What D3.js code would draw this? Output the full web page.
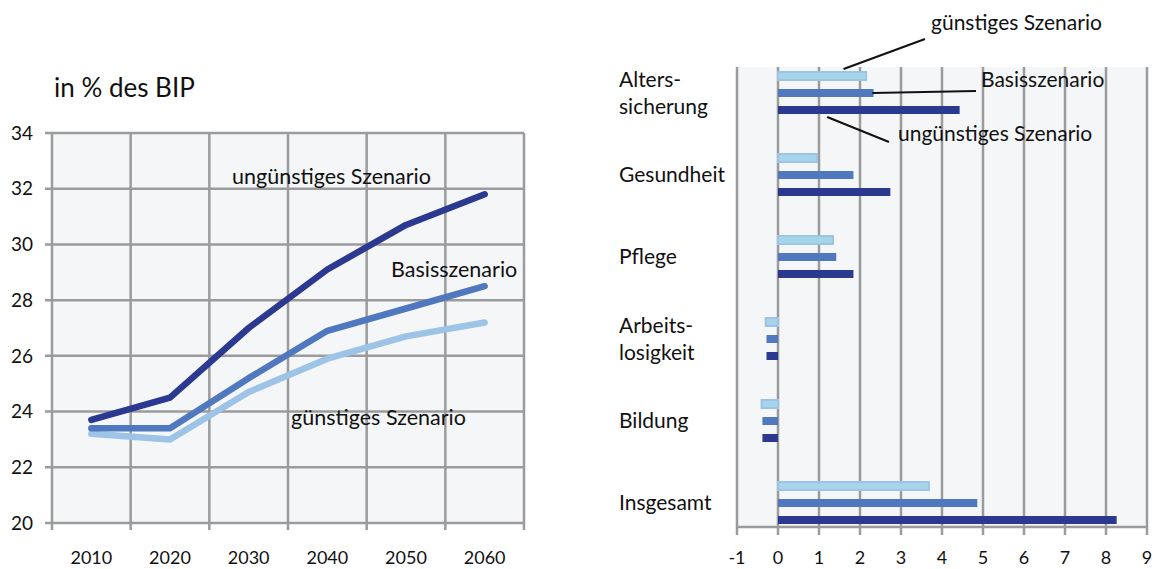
<!DOCTYPE html>
<html>
<head>
<meta charset="utf-8">
<script src="https://cdn.jsdelivr.net/npm/d3@7"></script>
<style>
  body { margin: 0; background: #fff; }
  svg { display: block; font-family: Lato, "Open Sans", sans-serif; }
</style>
</head>
<body>
<script>
'use strict';

// left chart: expenditure in % of GDP
let years = [2010, 2020, 2030, 2040, 2050, 2060];
let yTicks = [20, 22, 24, 26, 28, 30, 32, 34];
let unguenstig = [23.7, 24.5, 27.0, 29.1, 30.7, 31.8];
let basis = [23.4, 23.4, 25.2, 26.9, 27.7, 28.5];
let guenstig = [23.2, 23.0, 24.7, 25.9, 26.7, 27.2];

// right chart: change by area
let areas = ['Alterssicherung', 'Gesundheit', 'Pflege', 'Arbeitslosigkeit', 'Bildung', 'Insgesamt'];
let areaLabels = [['Alters-', 'sicherung'], ['Gesundheit'], ['Pflege'], ['Arbeits-', 'losigkeit'], ['Bildung'], ['Insgesamt']];
let barGuenstig = [2.15, 0.95, 1.34, -0.3, -0.4, 3.68];
let barBasis = [2.33, 1.84, 1.42, -0.28, -0.38, 4.86];
let barUnguenstig = [4.43, 2.74, 1.84, -0.28, -0.38, 8.26];
let xTicks = [-1, 0, 1, 2, 3, 4, 5, 6, 7, 8, 9];

let seriesNames = ['günstiges Szenario', 'Basisszenario', 'ungünstiges Szenario'];
let colors = { 'günstiges Szenario': '#9dc3e6', 'Basisszenario': '#4f78be', 'ungünstiges Szenario': '#2b3990' };

let width = 1156, height = 569;
let gridColor = '#9b9b9b';
let plotBg = '#f4f6f8';
let textColor = '#111';

let svg = d3.select('body').append('svg').attr('width', width).attr('height', height);

// ---------- left: line chart ----------
let L = { left: 52, right: 524, top: 133, bottom: 523 };

let x = d3.scaleBand().domain(years).range([L.left, L.right]);
let y = d3.scaleLinear().domain([20, 34]).range([L.bottom, L.top]);

let left = svg.append('g');

left.append('rect')
  .attr('x', L.left).attr('y', L.top)
  .attr('width', L.right - L.left).attr('height', L.bottom - L.top)
  .attr('fill', plotBg);

// horizontal grid + small ticks to the left
left.selectAll('.hgrid').data(yTicks).enter().append('line')
  .attr('x1', L.left - 7).attr('x2', L.right)
  .attr('y1', d => y(d)).attr('y2', d => y(d))
  .attr('stroke', gridColor).attr('stroke-width', 2.5);

// vertical grid at band edges, running a bit below the plot
let xEdges = years.map(d => x(d)).concat([L.right]);
left.selectAll('.vgrid').data(xEdges).enter().append('line')
  .attr('x1', d => d).attr('x2', d => d)
  .attr('y1', L.top).attr('y2', L.bottom + 7)
  .attr('stroke', gridColor).attr('stroke-width', 2.5);

left.selectAll('.ylab').data(yTicks).enter().append('text')
  .attr('x', 33).attr('y', d => y(d)).attr('dy', '0.35em')
  .attr('text-anchor', 'end').attr('font-size', 19).attr('fill', textColor)
  .text(d => d);

left.selectAll('.xlab').data(years).enter().append('text')
  .attr('x', d => x(d) + x.bandwidth() / 2).attr('y', 558).attr('dy', '0.35em')
  .attr('text-anchor', 'middle').attr('font-size', 18).attr('fill', textColor)
  .text(d => d);

let line = d3.line()
  .x((d, i) => x(years[i]) + x.bandwidth() / 2)
  .y(d => y(d));

[[guenstig, 'günstiges Szenario'], [basis, 'Basisszenario'], [unguenstig, 'ungünstiges Szenario']].forEach(function (s) {
  left.append('path')
    .attr('d', line(s[0]))
    .attr('fill', 'none')
    .attr('stroke', colors[s[1]])
    .attr('stroke-width', 6.5)
    .attr('stroke-linejoin', 'round')
    .attr('stroke-linecap', 'round');
});

left.append('text').attr('x', 54).attr('y', 97)
  .attr('font-size', 26).attr('fill', textColor).text('in % des BIP');

left.append('text').attr('x', 232).attr('y', 184).attr('font-size', 21.5).attr('fill', textColor).text('ungünstiges Szenario');
left.append('text').attr('x', 391).attr('y', 277).attr('font-size', 21.5).attr('fill', textColor).text('Basisszenario');
left.append('text').attr('x', 291).attr('y', 425).attr('font-size', 21.5).attr('fill', textColor).text('günstiges Szenario');

// ---------- right: bar chart ----------
let R = { left: 737, right: 1147, top: 67, bottom: 527 };

let xb = d3.scaleLinear().domain([-1, 9]).range([R.left, R.right]);
let yb = d3.scalePoint().domain(areas).range([93, 503]);
let yInner = d3.scalePoint().domain(seriesNames).range([-17, 17]);
let barH = 8;

let right = svg.append('g');

right.append('rect')
  .attr('x', R.left).attr('y', R.top)
  .attr('width', R.right - R.left).attr('height', R.bottom - R.top)
  .attr('fill', plotBg);

right.selectAll('.vgrid').data(xTicks).enter().append('line')
  .attr('x1', d => xb(d)).attr('x2', d => xb(d))
  .attr('y1', R.top).attr('y2', R.bottom + 8)
  .attr('stroke', gridColor).attr('stroke-width', 2.5);

right.append('line')
  .attr('x1', R.left).attr('x2', R.right)
  .attr('y1', R.bottom).attr('y2', R.bottom)
  .attr('stroke', gridColor).attr('stroke-width', 2.5);

right.selectAll('.xlab').data(xTicks).enter().append('text')
  .attr('x', d => xb(d)).attr('y', 558).attr('dy', '0.35em')
  .attr('text-anchor', 'middle').attr('font-size', 18).attr('fill', textColor)
  .text(d => d);

let barSeries = [
  { name: 'günstiges Szenario', values: barGuenstig },
  { name: 'Basisszenario', values: barBasis },
  { name: 'ungünstiges Szenario', values: barUnguenstig }
];

barSeries.forEach(function (s) {
  let light = s.name === 'günstiges Szenario';
  right.selectAll(null).data(s.values).enter().append('rect')
    .attr('x', d => xb(Math.min(0, d)))
    .attr('width', d => Math.abs(xb(d) - xb(0)))
    .attr('y', (d, i) => yb(areas[i]) + yInner(s.name) - barH / 2)
    .attr('height', barH)
    .attr('fill', light ? '#a6d4e9' : colors[s.name])
    .attr('stroke', light ? '#9dc3e6' : 'none')
    .attr('stroke-width', light ? 2 : 0);
});

// category labels
areaLabels.forEach(function (lines, i) {
  let cy = yb(areas[i]);
  let t = right.append('text').attr('x', 619).attr('font-size', 21).attr('fill', textColor);
  lines.forEach(function (l, j) {
    t.append('tspan').attr('x', 619)
      .attr('y', cy + (j - (lines.length - 1) / 2) * 27)
      .attr('dy', '0.35em').text(l);
  });
});

// annotations with leader lines to the Alterssicherung bars
let a0 = yb(areas[0]);
let leaders = [
  { x1: xb(1.6), y1: a0 + yInner('günstiges Szenario') - barH / 2 - 3, x2: 925, y2: 39, tx: 931, ty: 30, text: 'günstiges Szenario' },
  { x1: xb(2.3), y1: a0 + yInner('Basisszenario'), x2: 976, y2: 91, tx: 981, ty: 87, text: 'Basisszenario' },
  { x1: xb(1.2), y1: a0 + yInner('ungünstiges Szenario') + barH / 2 + 3, x2: 889, y2: 142, tx: 898, ty: 141, text: 'ungünstiges Szenario' }
];

leaders.forEach(function (a) {
  right.append('line')
    .attr('x1', a.x1).attr('y1', a.y1).attr('x2', a.x2).attr('y2', a.y2)
    .attr('stroke', '#111').attr('stroke-width', 2);
  right.append('text').attr('x', a.tx).attr('y', a.ty)
    .attr('font-size', 21).attr('fill', textColor).text(a.text);
});
</script>
</body>
</html>
